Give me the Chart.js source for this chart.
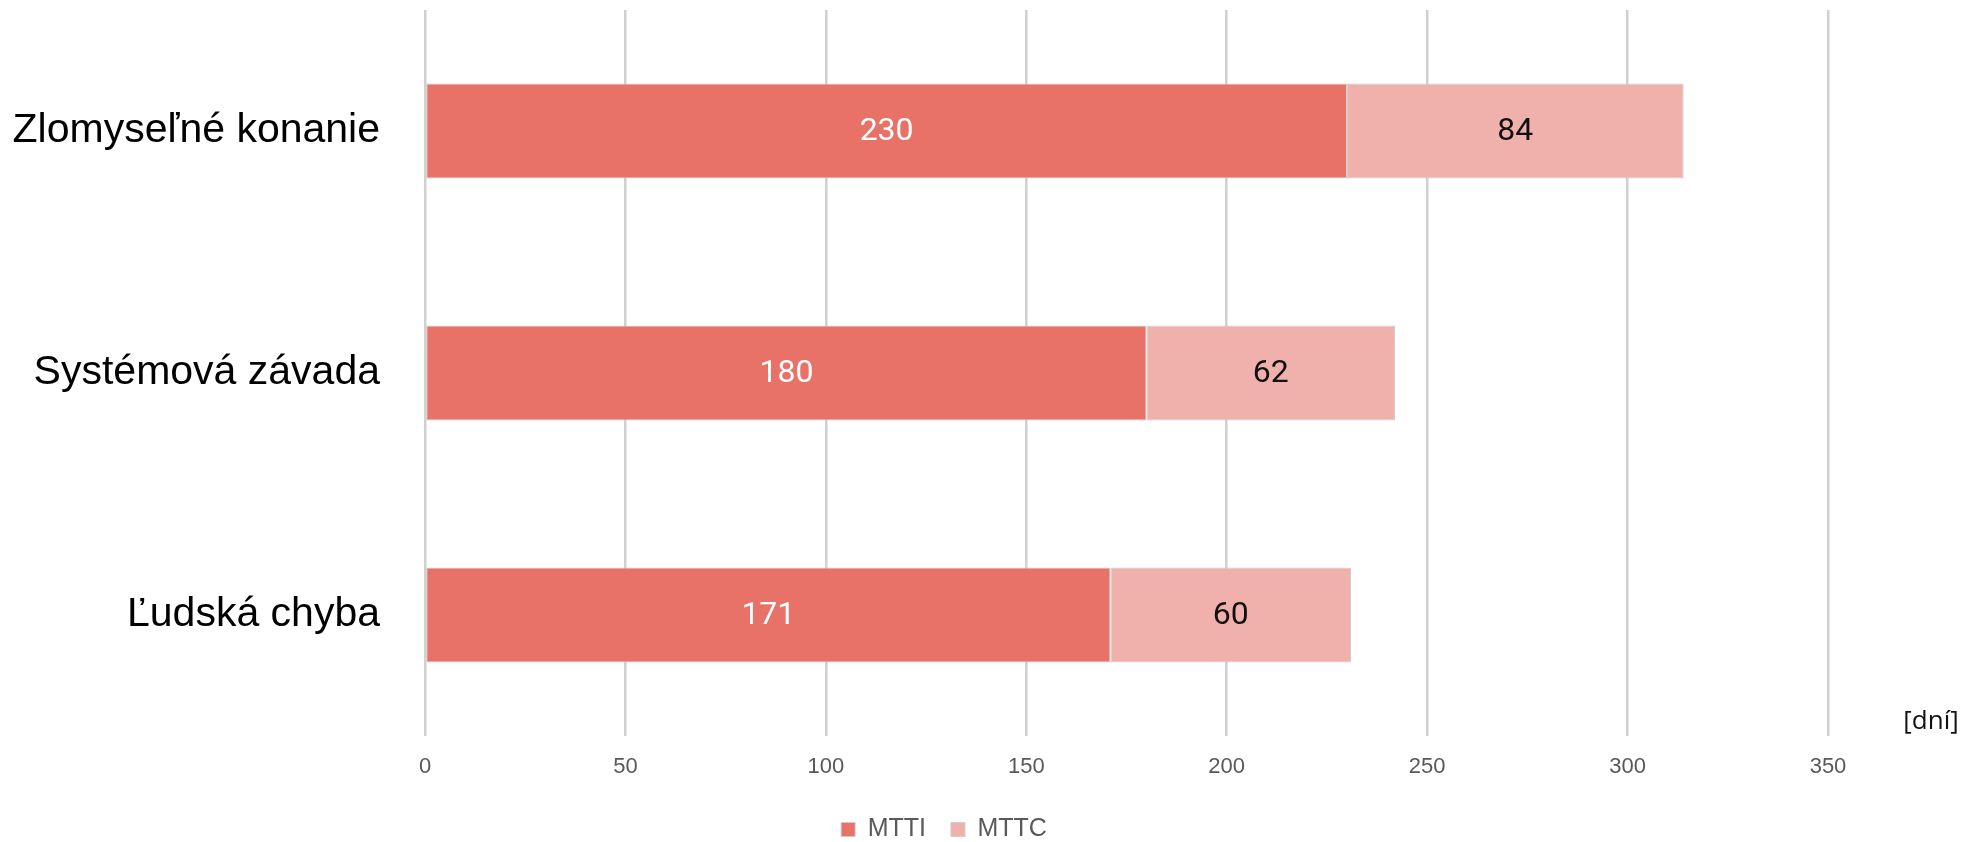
<!DOCTYPE html>
<html>
<head>
<meta charset="utf-8">
<script src="https://cdn.jsdelivr.net/npm/chart.js@4"></script>
<style>
  html, body { margin: 0; padding: 0; background: #fff; }
  #wrap { width: 1978px; height: 842px; position: relative; }
</style>
</head>
<body>
<div id="wrap"><canvas id="mttChart"></canvas></div>
<script>
// data
const categories = ['Zlomyseľné konanie', 'Systémová závada', 'Ľudská chyba'];
const mttiValues = [230, 180, 171];
const mttcValues = [84, 62, 60];
const seriesNames = ['MTTI', 'MTTC'];
const xTickValues = [0, 50, 100, 150, 200, 250, 300, 350];
const unitLabel = '[dní]';

const mttiColor = '#E97268';
const mttcColor = '#F0B0AB';

// value labels inside the bars
const barLabels = {
  id: 'barLabels',
  afterDatasetsDraw(chart) {
    const ctx = chart.ctx;
    ctx.save();
    ctx.font = '32px Roboto, "Liberation Sans", sans-serif';
    ctx.textAlign = 'center';
    ctx.textBaseline = 'middle';
    chart.data.datasets.forEach((ds, i) => {
      const meta = chart.getDatasetMeta(i);
      ctx.fillStyle = i === 0 ? '#ffffff' : '#111111';
      meta.data.forEach((bar, j) => {
        const p = bar.getProps(['x', 'y', 'base'], true);
        ctx.fillText(String(ds.data[j]), (p.x + p.base) / 2, p.y + 1);
      });
    });
    ctx.restore();
  }
};

// "[dní]" unit text right of the axis
const unitText = {
  id: 'unitText',
  afterDraw(chart) {
    const { ctx, chartArea } = chart;
    ctx.save();
    ctx.font = '26px "Open Sans", "Liberation Sans", sans-serif';
    ctx.fillStyle = '#111111';
    ctx.textAlign = 'center';
    ctx.textBaseline = 'middle';
    ctx.fillText(unitLabel, chartArea.right + 103, chartArea.bottom - 14);
    ctx.restore();
  }
};

// nudge the legend a bit right, like the original
const legendShift = {
  id: 'legendShift',
  afterLayout(chart) {
    const lg = chart.legend;
    if (!lg) return;
    lg.left += 30; lg.right += 30;
  }
};

new Chart(document.getElementById('mttChart'), {
  type: 'bar',
  data: {
    labels: categories,
    datasets: [
      {
        label: seriesNames[0],
        data: mttiValues,
        backgroundColor: mttiColor,
        borderColor: '#cdcdcd',
        borderWidth: 1,
        borderSkipped: false
      },
      {
        label: seriesNames[1],
        data: mttcValues,
        backgroundColor: mttcColor,
        borderColor: '#cdcdcd',
        borderWidth: 1,
        borderSkipped: false
      }
    ]
  },
  options: {
    indexAxis: 'y',
    responsive: true,
    maintainAspectRatio: false,
    animation: false,
    datasets: { bar: { barPercentage: 0.393, categoryPercentage: 1 } },
    layout: { padding: { top: 10, right: 150, left: 0, bottom: -10 } },
    plugins: {
      legend: {
        position: 'bottom',
        labels: {
          boxWidth: 14,
          boxHeight: 14,
          padding: 25,
          color: '#595959',
          font: { size: 25, family: '"Liberation Sans", sans-serif' }
        }
      },
      tooltip: { enabled: false }
    },
    scales: {
      x: {
        stacked: true,
        min: 0,
        max: 350,
        afterBuildTicks: (scale) => { scale.ticks = xTickValues.map(v => ({ value: v })); },
        afterFit: (scale) => { scale.height = 56; },
        grid: { color: '#d0d0d0', lineWidth: 2.5, drawTicks: false },
        border: { display: false },
        ticks: {
          padding: 18,
          color: '#595959',
          font: { size: 22, family: '"Liberation Sans", sans-serif' }
        }
      },
      y: {
        stacked: true,
        grid: { display: false, drawTicks: false },
        border: { display: false },
        afterFit: (scale) => {
          scale.width = 425;
          scale.paddingTop = 0;
          scale.paddingBottom = 0;
        },
        ticks: {
          padding: 45,
          color: '#000000',
          font: { size: 41, family: '"Liberation Sans", sans-serif' }
        }
      }
    }
  },
  plugins: [barLabels, unitText, legendShift]
});
</script>
</body>
</html>
